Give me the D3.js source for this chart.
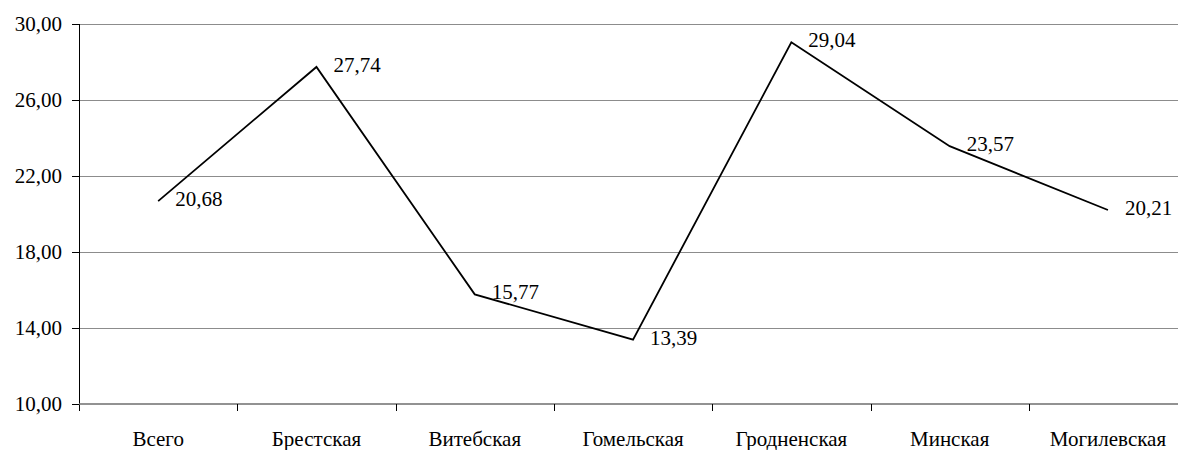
<!DOCTYPE html>
<html><head><meta charset="utf-8">
<script src="https://cdn.jsdelivr.net/npm/d3@7"></script>
</head><body style="margin:0"><svg id="c" width="1178" height="450" font-family="Liberation Serif" style="display:block"></svg>
<script>
const categories = ["Всего","Брестская","Витебская","Гомельская","Гродненская","Минская","Могилевская"];
const values = [20.68,27.74,15.77,13.39,29.04,23.57,20.21];
const yTicks = [10,14,18,22,26,30];

const svg = d3.select("#c");
const m = {l:79, t:24, b:404};
const bandW = 158.3;
const x = d3.scaleBand().domain(categories).range([m.l, m.l + bandW*categories.length]);
const y = d3.scaleLinear().domain([10,30]).range([m.b, m.t]);
const fmt = v => v.toFixed(2).replace(".", ",");
const fs = 21;

// gridlines
svg.selectAll("line.grid").data(yTicks.filter(d=>d>10)).join("line").attr("class","grid")
  .attr("x1", m.l).attr("x2", 1178).attr("y1", d=>Math.round(y(d))+0.5).attr("y2", d=>Math.round(y(d))+0.5)
  .attr("stroke", "#8c8c8c").attr("stroke-width", 1);

// y ticks
svg.selectAll("line.ytick").data(yTicks).join("line").attr("class","ytick")
  .attr("x1", m.l-7).attr("x2", m.l).attr("y1", d=>Math.round(y(d))+0.5).attr("y2", d=>Math.round(y(d))+0.5)
  .attr("stroke", "#000");
svg.selectAll("text.ylab").data(yTicks).join("text").attr("class","ylab")
  .attr("x", m.l-17).attr("y", d=>y(d)).attr("dy","0.32em").attr("text-anchor","end")
  .attr("font-family", d=>"Liberation Serif").attr("font-size", fs).text(fmt);
svg.append("line").attr("x1", m.l+0.5).attr("x2", m.l+0.5).attr("y1", m.t).attr("y2", m.b+7).attr("stroke","#000");

// x axis
svg.append("line").attr("x1", m.l).attr("x2", 1178).attr("y1", m.b).attr("y2", m.b).attr("stroke", "#6e6e6e").attr("stroke-width", 1.5);
svg.selectAll("line.xtick").data(categories.slice(1)).join("line").attr("class","xtick")
  .attr("x1", d=>Math.round(x(d))+0.5).attr("x2", d=>Math.round(x(d))+0.5).attr("y1", m.b).attr("y2", m.b+7).attr("stroke", "#000");
svg.selectAll("text.xlab").data(categories).join("text").attr("class","xlab")
  .attr("x", d=>x(d)+x.bandwidth()/2).attr("y", m.b+42).attr("text-anchor","middle")
  .attr("font-family", d=>"Liberation Serif").attr("font-size", fs).text(d=>d);

// line
const pts = categories.map((c,i)=>[x(c)+x.bandwidth()/2, y(values[i])]);
svg.append("path").attr("d", d3.line()(pts)).attr("fill","none").attr("stroke","#000").attr("stroke-width",1.8);

// labels
svg.selectAll("text.vlab").data(categories).join("text").attr("class","vlab")
  .attr("x", (d,i)=>pts[i][0]+17).attr("y", (d,i)=>pts[i][1]).attr("dy","0.24em")
  .attr("font-family", d=>"Liberation Serif").attr("font-size", fs).text((d,i)=>fmt(values[i]));
</script></body></html>
